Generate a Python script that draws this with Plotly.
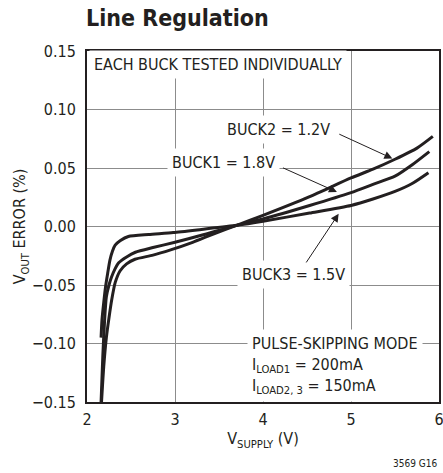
import plotly.graph_objects as go

# ---- data ----
buck1_x = [2.16, 2.18, 2.20, 2.22, 2.25, 2.28, 2.32, 2.36, 2.45, 2.55, 2.75, 3.0, 3.3, 3.7, 4.0, 4.53, 5.0, 5.25, 5.5, 5.7, 5.89]
buck1_y = [-0.150, -0.110, -0.080, -0.060, -0.050, -0.043, -0.036, -0.031, -0.026, -0.022, -0.018, -0.0135, -0.0075, 0.001, 0.0065, 0.018, 0.029, 0.036, 0.043, 0.053, 0.064]

buck2_x = [2.165, 2.19, 2.22, 2.25, 2.28, 2.32, 2.375, 2.45, 2.545, 2.75, 2.95, 3.2, 3.45, 3.7, 4.0, 4.53, 5.0, 5.25, 5.5, 5.75, 5.93]
buck2_y = [-0.150, -0.120, -0.095, -0.078, -0.063, -0.048, -0.038, -0.032, -0.028, -0.0245, -0.020, -0.0135, -0.006, 0.001, 0.0095, 0.0255, 0.0415, 0.049, 0.0575, 0.067, 0.077]

buck3_x = [2.16, 2.17, 2.19, 2.21, 2.235, 2.26, 2.29, 2.32, 2.38, 2.47, 2.7, 2.98, 3.3, 3.7, 4.0, 4.53, 5.0, 5.25, 5.5, 5.7, 5.88]
buck3_y = [-0.095, -0.080, -0.065, -0.052, -0.040, -0.029, -0.021, -0.016, -0.012, -0.0085, -0.0068, -0.0052, -0.0025, 0.001, 0.0045, 0.0115, 0.018, 0.0235, 0.030, 0.037, 0.046]

x_ticks = [2, 3, 4, 5, 6]
y_ticks = [-0.15, -0.10, -0.05, 0.00, 0.05, 0.10, 0.15]

INK = "#231f20"
GRID = "#8c8c8c"
FONT = "Liberation Sans Narrow, DejaVu Sans Condensed, Liberation Sans, Arial, sans-serif"

fig = go.Figure()
for xs, ys, name in [(buck1_x, buck1_y, "BUCK1"), (buck2_x, buck2_y, "BUCK2"), (buck3_x, buck3_y, "BUCK3")]:
    fig.add_trace(go.Scatter(x=xs, y=ys, mode="lines", name=name,
                             line=dict(color=INK, width=3, shape="spline", smoothing=0.6),
                             showlegend=False, hoverinfo="skip"))

annos = []
# labels with white background (they interrupt gridlines)
def label(text, x, y, xref="x", yref="y", xanchor="center", align="center"):
    annos.append(dict(text=text, x=x, y=y, xref=xref, yref=yref, showarrow=False,
                      xanchor=xanchor, yanchor="middle", align=align,
                      bgcolor="white", borderpad=4,
                      font=dict(family=FONT, size=16, color=INK)))

label("EACH BUCK TESTED INDIVIDUALLY", 0.005, 0.1385, xref="paper", xanchor="left")
label("BUCK2 = 1.2V", 4.18, 0.083)
label("BUCK1 = 1.8V", 3.55, 0.0546)
label("BUCK3 = 1.5V", 4.35, -0.0407)
label("PULSE-SKIPPING MODE<br>I<sub>LOAD1</sub> = 200mA<br>I<sub>LOAD2, 3</sub> = 150mA",
      3.818, -0.1187, xanchor="left", align="left")

# arrows
def arrow(x0, y0, x1, y1):
    annos.append(dict(x=x1, y=y1, ax=x0, ay=y0, xref="x", yref="y", axref="x", ayref="y",
                      text="", showarrow=True, arrowhead=2, arrowsize=1.6, arrowwidth=1,
                      arrowcolor=INK))

arrow(4.85, 0.0795, 5.47, 0.0581)
arrow(4.21, 0.0507, 4.84, 0.0295)
arrow(4.48, -0.032, 4.86, 0.0109)

annos.append(dict(text="3569 G16", x=1.0, y=-0.174, xref="paper", yref="paper",
                  xanchor="right", yanchor="middle", showarrow=False,
                  font=dict(family=FONT, size=10, color=INK)))

fig.update_layout(
    width=443, height=473,
    margin=dict(l=87, r=4, t=51, b=71),
    paper_bgcolor="white", plot_bgcolor="white",
    font=dict(family=FONT, size=16, color=INK),
    title=dict(text="<b>Line Regulation</b>", x=86/443, xanchor="left",
               y=1 - 18/473, yanchor="middle",
               font=dict(family=FONT, size=23, color=INK)),
    annotations=annos,
    xaxis=dict(range=[2, 6], tickvals=x_ticks, ticktext=[str(v) for v in x_ticks],
               showgrid=True, gridcolor=GRID, gridwidth=1, zeroline=False,
               showline=True, mirror=True, linecolor=INK, linewidth=2,
               ticks="", ticklabelstandoff=2, automargin=False,
               ticklabeloverflow="allow",
               tickfont=dict(family=FONT, size=16, color=INK),
               title=dict(text="V<sub>SUPPLY</sub> (V)", standoff=5,
                          font=dict(family=FONT, size=16, color=INK))),
    yaxis=dict(range=[-0.15, 0.15], tickvals=y_ticks, tickformat=".2f",
               showgrid=True, gridcolor=GRID, gridwidth=1, zeroline=False,
               showline=True, mirror=True, linecolor=INK, linewidth=2,
               ticks="", ticklabelstandoff=6, automargin=False,
               ticklabeloverflow="allow",
               tickfont=dict(family=FONT, size=16, color=INK),
               title=dict(text="V<sub>OUT</sub> ERROR (%)", standoff=0,
                          font=dict(family=FONT, size=16, color=INK))),
)

fig.write_html("out.html", config={"displayModeBar": False},
               post_script="document.body.style.margin='0px';")
